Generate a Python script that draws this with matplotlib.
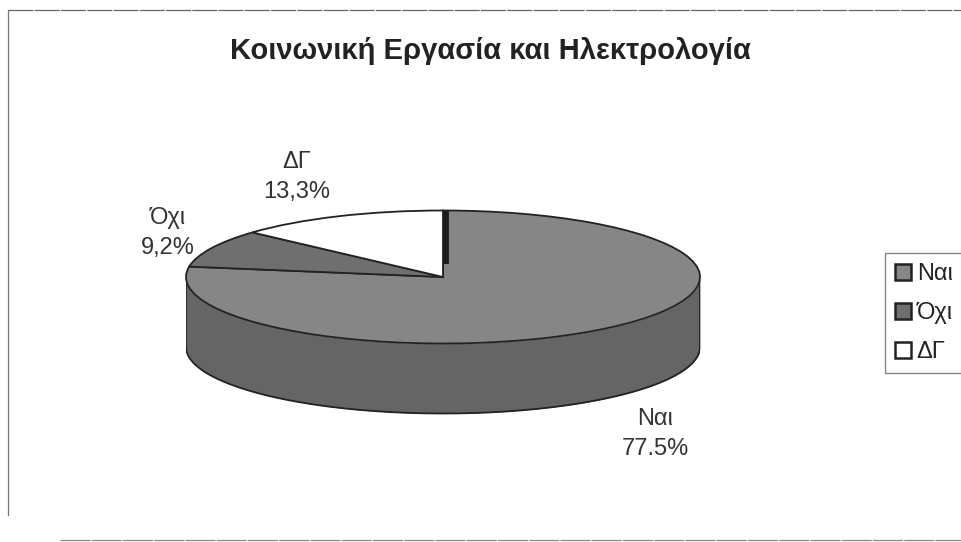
import numpy as np
import matplotlib
matplotlib.use("Agg")
import matplotlib.pyplot as plt
from matplotlib.lines import Line2D

categories = ["Ναι", "Όχι", "ΔΓ"]
values = [77.5, 9.2, 13.3]
value_labels = ["77.5%", "9,2%", "13,3%"]
title = "Κοινωνική Εργασία και Ηλεκτρολογία"
top_colors = ["#868686", "#6f6f6f", "#ffffff"]
wall_color = "#656565"

W, H = 962, 542
plt.rcParams["font.family"] = ["Liberation Sans", "DejaVu Sans"]
fig = plt.figure(figsize=(W / 100, H / 100), dpi=100, facecolor="white")

# pixel-space overlay for frame and text
bg = fig.add_axes([0, 0, 1, 1], zorder=0)
bg.set_xlim(0, W)
bg.set_ylim(H, 0)
bg.axis("off")
bg.plot([8, 962], [10, 10], color="#666666", lw=0.9, ls=(0, (20, 1)))
bg.plot([8, 8], [10, 515], color="#777777", lw=0.9)
bg.plot([60, 962], [540, 540], color="#888888", lw=0.9, ls=(0, (24, 1)))
bg.text(490, 51, title, ha="center", va="center", fontsize=21, fontweight="bold", color="#222222")

# pie axes: the ellipse is a unit circle on a non-equal scale
left, right, top, bottom = 186, 700, 210.5, 343.5
depth = 70 / ((bottom - top) / 2)
ax = fig.add_axes([left / W, 1 - (bottom + 80) / H, (right - left) / W, (bottom - top + 80) / H], zorder=1)
ax.patch.set_alpha(0)
wedges, _ = ax.pie(values, colors=top_colors, startangle=90, counterclock=False, radius=1,
                   wedgeprops=dict(edgecolor="#222222", linewidth=1.3))
for w in wedges:
    w.set_zorder(3)
ax.set_aspect("auto")
ax.set_xlim(-1, 1)
ax.set_ylim(-1 - 80 / ((bottom - top) / 2), 1)
ax.axis("off")

# side wall of the visible front arc of the first slice
t1 = max(wedges[0].theta1, -180)
t2 = min(wedges[0].theta2, 0)
t = np.radians(np.linspace(t1, t2, 200))
ax.fill_between(np.cos(t), np.sin(t), np.sin(t) - depth, color=wall_color, zorder=1, lw=0)
ax.plot(np.cos(t), np.sin(t) - depth, color="#222222", lw=1.3, zorder=2)
ax.plot([-1, -1], [0, -depth], color="#222222", lw=1.3, zorder=2)
ax.plot([1, 1], [0, -depth], color="#222222", lw=1.3, zorder=2)

# dark inner edge at the twelve o'clock seam
ov = fig.add_axes([0, 0, 1, 1], zorder=2)
ov.set_xlim(0, W)
ov.set_ylim(H, 0)
ov.axis("off")
ov.plot([446, 446], [211, 264], color="#1c1c1c", lw=4.2, solid_capstyle="butt")

positions = [(655, 434), (168, 233), (297, 177)]
for cat, lab, (x, y) in zip(categories, value_labels, positions):
    ov.text(x, y, f"{cat}\n{lab}", ha="center", va="center", fontsize=17,
            color="#333333", linespacing=1.5)

handles = [Line2D([], [], ls="", marker="s", markersize=12, markerfacecolor=c,
                  markeredgecolor="#222222", markeredgewidth=1.8) for c in top_colors]
leg = ov.legend(handles, categories, loc="upper left", bbox_to_anchor=(885 / W, 1 - 253 / H),
                bbox_transform=fig.transFigure, fontsize=17, frameon=True, fancybox=False,
                edgecolor="#666666", borderpad=0.42, labelspacing=0.72, handletextpad=0.2,
                handlelength=0.72, borderaxespad=0, labelcolor="#222222")
leg.get_frame().set_linewidth(1.0)
leg.get_frame().set_width(90)

fig.savefig("out.png", dpi=100, facecolor="white")
